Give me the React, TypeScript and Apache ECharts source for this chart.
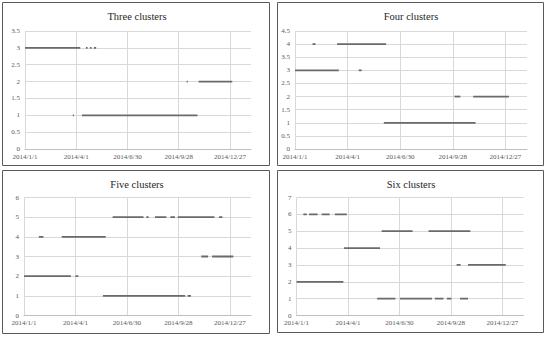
import React, { useEffect, useRef } from 'react';
import * as echarts from 'echarts';

// Each run: [startDay, endDay, cluster], days counted from 2014/1/1
const threeClusterRuns: number[][] = [
  [0, 97, 3], [107, 110, 3], [114, 117, 3], [121, 125, 3],
  [84, 86, 1], [100, 303, 1],
  [284, 286, 2], [305, 364, 2],
];
const fourClusterRuns: number[][] = [
  [0, 75, 3], [109, 114, 3],
  [30, 35, 4], [72, 156, 4],
  [152, 309, 1],
  [273, 283, 2], [305, 366, 2],
];
const fiveClusterRuns: number[][] = [
  [0, 82, 2], [90, 95, 2],
  [26, 34, 4], [66, 143, 4],
  [138, 282, 1], [286, 292, 1],
  [155, 209, 5], [214, 218, 5], [229, 249, 5], [256, 264, 5], [269, 333, 5], [341, 347, 5],
  [310, 322, 3], [329, 366, 3],
];
const sixClusterRuns: number[][] = [
  [12, 18, 6], [22, 37, 6], [44, 58, 6], [67, 88, 6],
  [0, 82, 2],
  [83, 146, 4],
  [149, 203, 5], [231, 304, 5],
  [141, 173, 1], [181, 237, 1], [242, 257, 1], [263, 271, 1], [286, 300, 1],
  [280, 287, 3], [300, 366, 3],
];

const panelTitles = ['Three clusters', 'Four clusters', 'Five clusters', 'Six clusters'];
const panelRuns = [threeClusterRuns, fourClusterRuns, fiveClusterRuns, sixClusterRuns];
const yMaxima = [3.5, 4.5, 6, 7];
const yIntervals = [0.5, 0.5, 1, 1];
const xTickLabels = ['2014/1/1', '2014/4/1', '2014/6/30', '2014/9/28', '2014/12/27'];
const xTickStepDays = 90;
const xMaxDay = 397;

const grids = [
  { left: 25, top: 31, width: 226, height: 118 },
  { left: 295, top: 31, width: 232, height: 118 },
  { left: 24, top: 197.5, width: 227, height: 118 },
  { left: 296.5, top: 197.5, width: 227, height: 118 },
];
const boxes = [
  { x: 2.5, y: 2.5, width: 267, height: 163 },
  { x: 277.5, y: 2.5, width: 266, height: 163 },
  { x: 2.5, y: 170.5, width: 267, height: 163 },
  { x: 277.5, y: 170.5, width: 266, height: 162 },
];
const titlePos = [
  { x: 137, y: 16 },
  { x: 411, y: 16 },
  { x: 137, y: 184 },
  { x: 411, y: 184 },
];

const FONT = 'Liberation Serif';

export default function App() {
  const ref = useRef<HTMLDivElement>(null);
  useEffect(() => {
    document.body.style.margin = '0';
    if (!ref.current) return;
    const chart = echarts.init(ref.current, undefined, { renderer: 'svg' });
    const series: any[] = [];
    panelRuns.forEach((runs, i) => {
      runs.forEach(([s, e, c]) => {
        series.push({
          type: 'line',
          xAxisIndex: i,
          yAxisIndex: i,
          data: [[s, c], [e, c]],
          symbol: 'none',
          showSymbol: false,
          silent: true,
          lineStyle: { color: '#6a6a6a', width: 1.8 },
        });
      });
    });
    chart.setOption({
      animation: false,
      backgroundColor: '#ffffff',
      grid: grids.map((g) => ({ ...g, containLabel: false })),
      xAxis: grids.map((_, i) => ({
        type: 'value',
        gridIndex: i,
        min: 0,
        max: xMaxDay,
        interval: xTickStepDays,
        axisLine: { show: true, lineStyle: { color: '#bfbfbf', width: 1 } },
        axisTick: { show: false },
        splitLine: { show: true, showMaxLine: false, lineStyle: { color: '#d9d9d9', width: 1 } },
        axisLabel: {
          show: true,
          margin: 4,
          fontSize: 7,
          fontFamily: FONT,
          color: '#595959',
          showMaxLabel: false,
          formatter: (v: number) => {
            const k = v / xTickStepDays;
            return Number.isInteger(k) && xTickLabels[k] ? xTickLabels[k] : '';
          },
        },
      })),
      yAxis: grids.map((_, i) => ({
        type: 'value',
        gridIndex: i,
        min: 0,
        max: yMaxima[i],
        interval: yIntervals[i],
        axisLine: { show: false },
        axisTick: { show: false },
        splitLine: { show: true, lineStyle: { color: '#d9d9d9', width: 1 } },
        axisLabel: {
          margin: 5,
          fontSize: 7,
          fontFamily: FONT,
          color: '#595959',
        },
      })),
      graphic: [
        ...boxes.map((b) => ({
          type: 'rect',
          shape: b,
          silent: true,
          style: { fill: 'none', stroke: '#595959', lineWidth: 1 },
        })),
        ...panelTitles.map((t, i) => ({
          type: 'text',
          x: titlePos[i].x,
          y: titlePos[i].y,
          silent: true,
          style: {
            text: t,
            fontSize: 10.5,
            fontFamily: FONT,
            fill: '#262626',
            textAlign: 'center',
            textVerticalAlign: 'middle',
            align: 'center',
            verticalAlign: 'middle',
          },
        })),
      ],
      series,
    });
    return () => chart.dispose();
  }, []);
  return <div ref={ref} style={{ position: 'absolute', left: 0, top: 0, width: 550, height: 339 }} />;
}
